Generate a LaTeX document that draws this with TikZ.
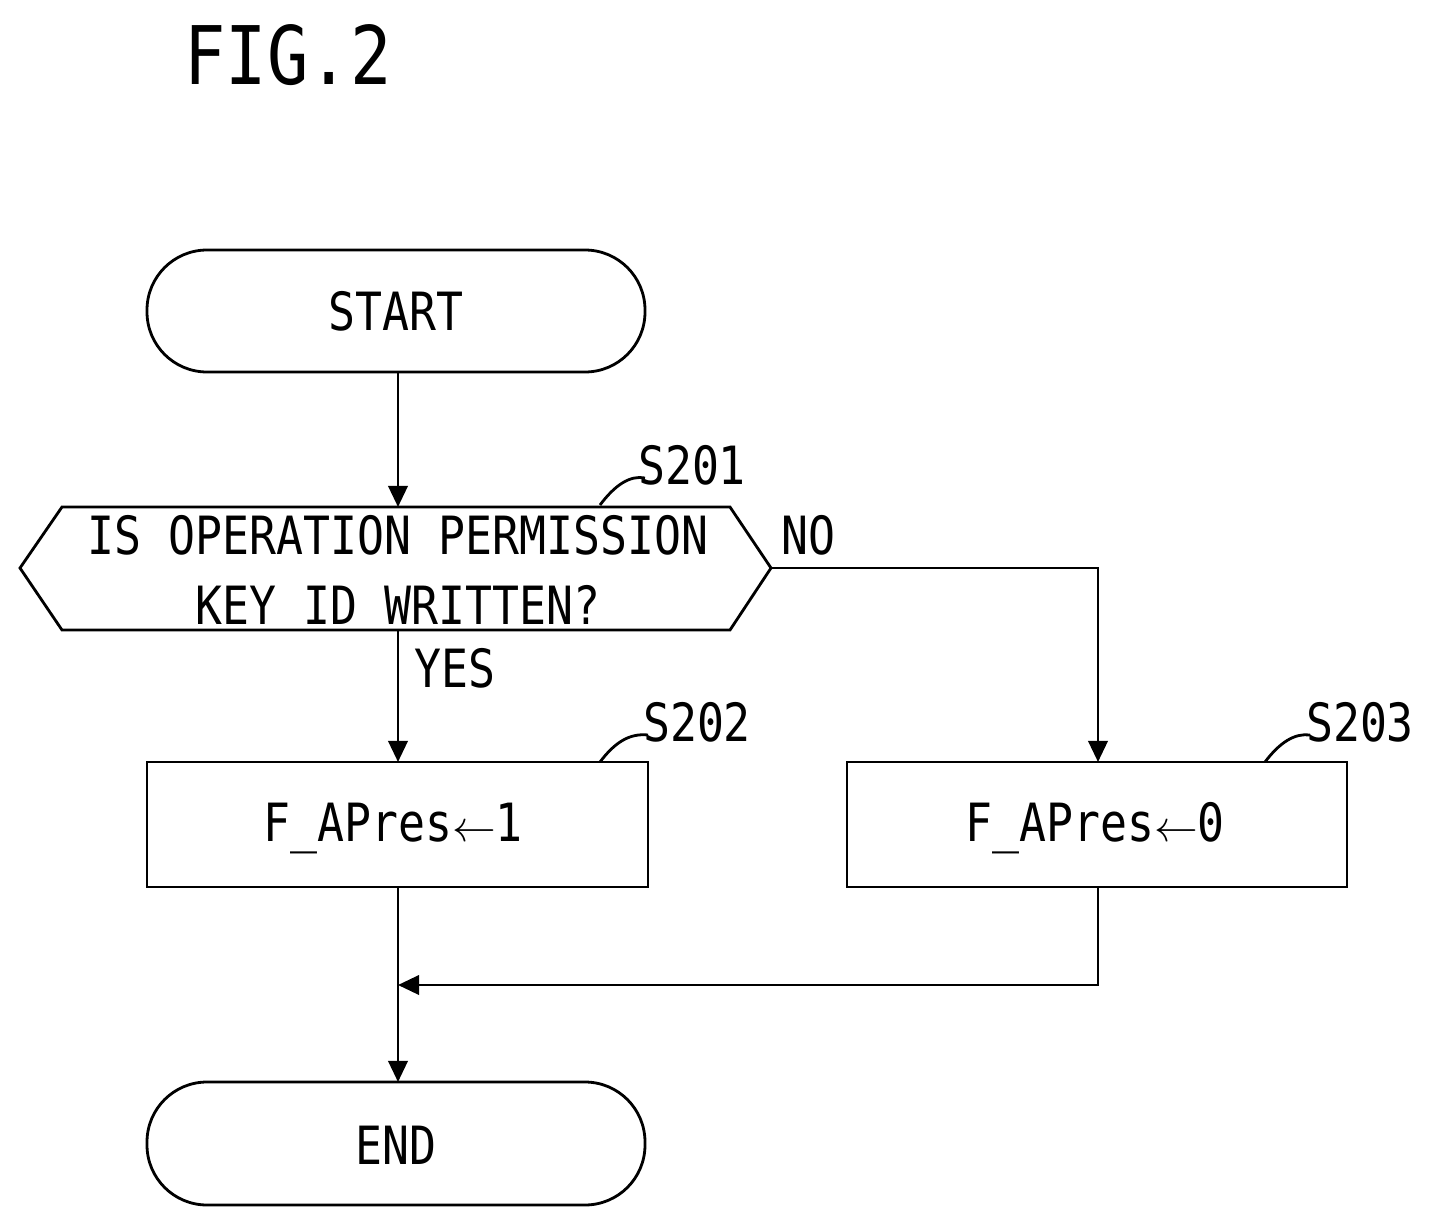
\documentclass[tikz,border=0pt]{standalone}
\usepackage{fontspec}
\setmainfont{DejaVu Sans Mono}[FakeStretch=0.85]
\usetikzlibrary{arrows.meta}
\begin{document}
\begin{tikzpicture}[x=0.02cm,y=-0.02cm,
  every node/.style={font=\fontsize{30}{40}\selectfont},
  ln/.style={line width=1.6pt},
  arr/.style={ln,-{Triangle[length=12pt,width=11pt]}},
  term/.style={draw,ln,rounded corners=60*0.02cm},
  box/.style={draw,ln}]
\useasboundingbox (0,0) rectangle (1433,1227);
\node[font=\fontsize{46}{56}\selectfont] (fig) at (288,55) {FIG.2};
% start
\draw[term] (147,250) rectangle (645,372);
\node (start) at (396,311) {START};
\coordinate (startb) at (398,372);
% hexagon
\draw[ln] (20,568) -- (62,507) -- (730,507) -- (771,568) -- (730,630) -- (62,630) -- cycle;
\node[align=center] (dec) at (398,570) {IS OPERATION PERMISSION\\KEY ID WRITTEN?};
\coordinate (dect) at (398,507);
\coordinate (decb) at (398,630);
\coordinate (decr) at (771,568);
\node (s201) at (692,465) {S201};
\draw[ln] (600,505) .. controls (615,485) and (630,475) .. (645,478);
\node (no) at (808,535) {NO};
\node (yes) at (455,668) {YES};
% boxes
\draw[box] (147,762) rectangle (648,887);
\node (b1) at (393,828) {F\_APres$\leftarrow$1};
\draw[box] (847,762) rectangle (1347,887);
\node (b2) at (1095,828) {F\_APres$\leftarrow$0};
\node (s202) at (697,722) {S202};
\draw[ln] (600,762) .. controls (615,742) and (630,733) .. (648,735);
\node (s203) at (1360,722) {S203};
\draw[ln] (1265,762) .. controls (1280,742) and (1295,733) .. (1310,735);
% end
\draw[term] (147,1082) rectangle (645,1205);
\node (end) at (396,1145) {END};
% connectors
\draw[arr] (startb) -- (dect);
\draw[arr] (decb) -- (398,762);
\draw[arr] (decr) -- (1098,568) -- (1098,762);
\draw[arr] (398,887) -- (398,1082);
\draw[arr] (1098,887) -- (1098,985) -- (398,985);
\end{tikzpicture}
\end{document}
